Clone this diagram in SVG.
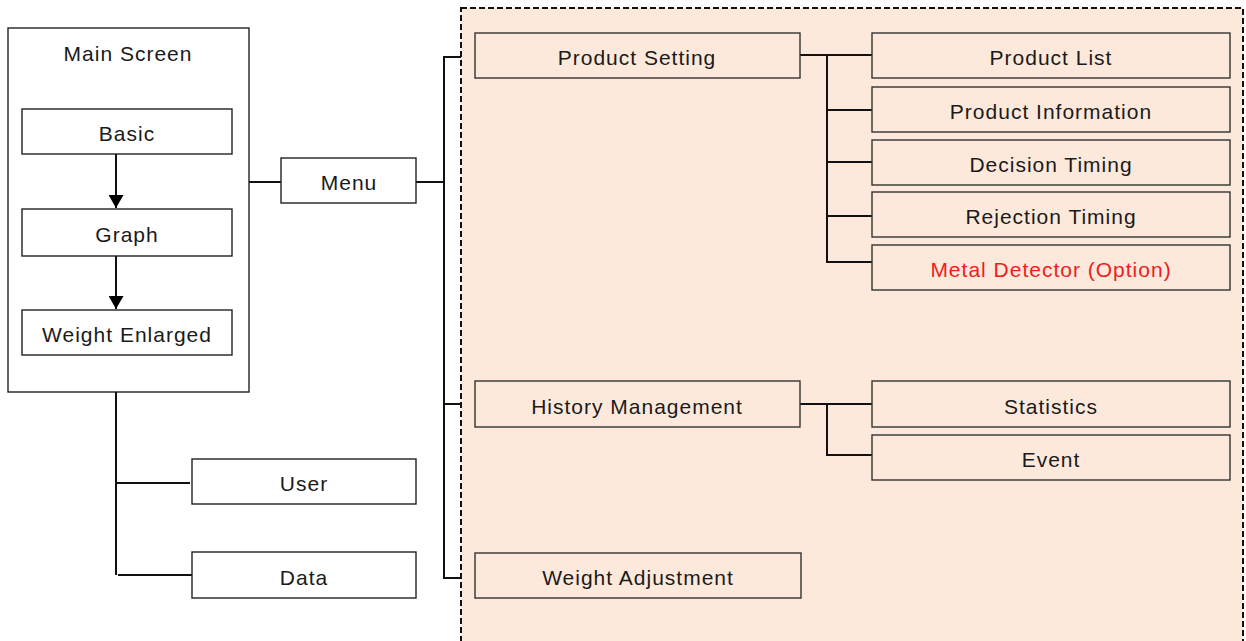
<svg xmlns="http://www.w3.org/2000/svg" width="1246" height="641" viewBox="0 0 1246 641">
<defs>
<style>
.bx{fill:#ffffff;stroke:#222;stroke-width:1.4}
.pb{fill:#fde9db;stroke:#333;stroke-width:1.4}
.t{font-family:"Liberation Sans",Arial,sans-serif;font-size:21px;fill:#1a1a1a;text-anchor:middle;letter-spacing:1px}
.red{fill:#f01c1c}
.ln{fill:none;stroke:#111;stroke-width:2}
</style>
<marker id="ah2" viewBox="0 0 14 16" refX="14" refY="8" markerWidth="22" markerHeight="15" markerUnits="userSpaceOnUse" orient="auto">
<path d="M0,0 L14,8 L0,16 Z" fill="#000"/>
</marker>
</defs>
<rect width="1246" height="641" fill="#ffffff"/>
<g id="menu-area">
<rect x="461" y="8" width="782" height="660" fill="#fde9db" stroke="#111" stroke-width="2" stroke-dasharray="6,3"/>
</g>
<g id="main-screen">
<rect class="bx" x="8" y="28" width="241" height="364"/>
<text class="t" x="128" y="61">Main Screen</text>
</g>
<g id="connectors">
<path class="ln" d="M116,154 V208" marker-end="url(#ah2)"/>
<path class="ln" d="M116,256 V309" marker-end="url(#ah2)"/>
<path class="ln" d="M249,182 H281"/>
<path class="ln" d="M416,182 H444"/>
<path class="ln" d="M461,57 H444 V578 H461"/>
<path class="ln" d="M444,404 H461"/>
<path class="ln" d="M800,55 H872"/>
<path class="ln" d="M827,55 V262 H872"/>
<path class="ln" d="M827,110 H872"/>
<path class="ln" d="M827,162 H872"/>
<path class="ln" d="M827,216 H872"/>
<path class="ln" d="M800,404 H872"/>
<path class="ln" d="M827,404 V455 H872"/>
<path class="ln" d="M116,392 V575"/>
<path class="ln" d="M116,483 H190"/>
<path class="ln" d="M118,575 H192"/>
</g>
<g id="basic">
<rect class="bx" x="22" y="109" width="210" height="45"/>
<text class="t" x="127" y="141">Basic</text>
</g>
<g id="graph">
<rect class="bx" x="22" y="209" width="210" height="47"/>
<text class="t" x="127" y="242">Graph</text>
</g>
<g id="weight-enlarged">
<rect class="bx" x="22" y="310" width="210" height="45"/>
<text class="t" x="127" y="342">Weight Enlarged</text>
</g>
<g id="menu">
<rect class="bx" x="281" y="158" width="135" height="45"/>
<text class="t" x="349" y="190">Menu</text>
</g>
<g id="user">
<rect class="bx" x="192" y="459" width="224" height="45"/>
<text class="t" x="304" y="491">User</text>
</g>
<g id="data">
<rect class="bx" x="192" y="552" width="224" height="46"/>
<text class="t" x="304" y="585">Data</text>
</g>
<g id="product-setting">
<rect class="pb" x="475" y="33" width="325" height="45"/>
<text class="t" x="637" y="65">Product Setting</text>
</g>
<g id="product-list">
<rect class="pb" x="872" y="33" width="358" height="45"/>
<text class="t" x="1051" y="65">Product List</text>
</g>
<g id="product-information">
<rect class="pb" x="872" y="87" width="358" height="45"/>
<text class="t" x="1051" y="119">Product Information</text>
</g>
<g id="decision-timing">
<rect class="pb" x="872" y="140" width="358" height="45"/>
<text class="t" x="1051" y="172">Decision Timing</text>
</g>
<g id="rejection-timing">
<rect class="pb" x="872" y="192" width="358" height="45"/>
<text class="t" x="1051" y="224">Rejection Timing</text>
</g>
<g id="metal-detector">
<rect class="pb" x="872" y="245" width="358" height="45"/>
<text class="t red" x="1051" y="277">Metal Detector (Option)</text>
</g>
<g id="history-management">
<rect class="pb" x="475" y="381" width="325" height="46"/>
<text class="t" x="637" y="414">History Management</text>
</g>
<g id="statistics">
<rect class="pb" x="872" y="381" width="358" height="46"/>
<text class="t" x="1051" y="414">Statistics</text>
</g>
<g id="event">
<rect class="pb" x="872" y="435" width="358" height="45"/>
<text class="t" x="1051" y="467">Event</text>
</g>
<g id="weight-adjustment">
<rect class="pb" x="475" y="553" width="326" height="45"/>
<text class="t" x="638" y="585">Weight Adjustment</text>
</g>
</svg>
